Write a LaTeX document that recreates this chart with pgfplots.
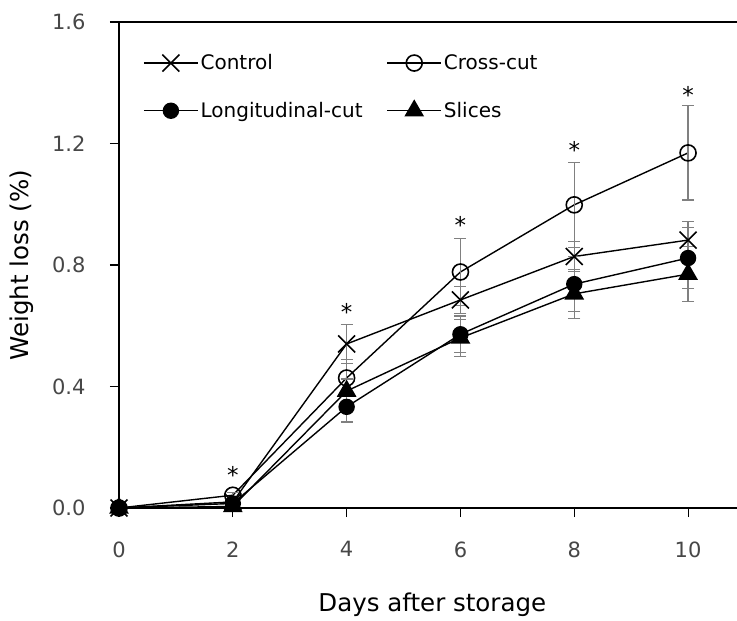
\documentclass[border=0pt]{standalone}
\usepackage{fontspec}
\setmainfont{DejaVu Sans}
\usepackage{pgfplots}
\pgfplotsset{compat=1.18}
\usepackage{pgfplotstable}
\definecolor{errgray}{RGB}{128,128,128}

\pgfplotstableread{
x y e
0 0 0
2 0.020 0.005
4 0.540 0.063
6 0.685 0.045
8 0.828 0.050
10 0.882 0.060
}\control
\pgfplotstableread{
x y e
0 0 0
2 0.042 0.010
4 0.428 0.060
6 0.777 0.110
8 0.998 0.140
10 1.169 0.155
}\crosscut
\pgfplotstableread{
x y e
0 0 0
2 0.015 0.005
4 0.333 0.050
6 0.572 0.060
8 0.737 0.090
10 0.823 0.100
}\longcut
\pgfplotstableread{
x y e
0 0 0
2 0.005 0.005
4 0.385 0.040
6 0.560 0.060
8 0.705 0.080
10 0.770 0.090
}\slices

\begin{document}
\begin{tikzpicture}
\begin{axis}[
  name=ax,
  scale only axis, width=618pt, height=486pt,
  xmin=0, xmax=10.86, ymin=0, ymax=1.6,
  axis x line*=bottom, axis y line*=left,
  clip=false,
  xtick={0,2,4,6,8,10}, ytick={0,0.4,0.8,1.2,1.6},
  yticklabel style={xshift=-21pt, /pgf/number format/fixed, /pgf/number format/fixed zerofill, /pgf/number format/precision=1},
  /pgf/number format/assume math mode=true,
  tick align=outside, major tick length=9pt,
  tick style={black, line width=1.1pt},
  axis line style={black, line width=1.2pt},
  ticklabel style={font=\fontsize{21}{24}\selectfont, text=black!72},
  xticklabel style={yshift=-21pt},
  xlabel={Days after storage},
  ylabel={Weight loss (\%)},
  label style={font=\fontsize{24.5}{28}\selectfont},
  xlabel style={at={(axis description cs:0.507,-0.1996)}, anchor=center},
  ylabel style={at={(axis description cs:-0.157,0.5)}, anchor=center},
  every axis plot/.append style={black, line width=1.4pt},
  error bars/y dir=both, error bars/y explicit,
  error bars/error bar style={errgray, line width=1.2pt},
  error bars/error mark options={rotate=90, mark size=6pt, errgray, line width=1.2pt},
  legend columns=2,
  legend cell align=left,
  legend style={draw=none, fill=none, inner sep=0pt, at={(rel axis cs:0,1)}, anchor=north west,
    xshift=24pt, yshift=-30.5pt, font=\fontsize{20}{24}\selectfont, row sep=27pt,
    /tikz/every odd column/.append style={column sep=0pt},
    /tikz/every even column/.append style={column sep=22pt}},
  legend image code/.code={\draw[mark repeat=2, mark phase=2, #1] plot coordinates {(0pt,0pt) (27pt,0pt) (54pt,0pt)};},
]
\addplot[mark=x, mark size=12pt, mark options={solid, line width=1.6pt}] table[x=x, y=y, y error=e] {\control};
\addlegendentry{Control}
\addplot[mark=o, mark size=8pt, mark options={solid, line width=1.6pt, fill=white}] table[x=x, y=y, y error=e] {\crosscut};
\addlegendentry{Cross-cut}
\addplot[mark=*, mark size=7.5pt, mark options={solid, fill=black}] table[x=x, y=y, y error=e] {\longcut};
\addlegendentry{Longitudinal-cut}
\addplot[mark=triangle*, mark size=10pt, mark options={solid, fill=black}] table[x=x, y=y, y error=e] {\slices};
\addlegendentry{Slices}
\draw[black, line width=1.2pt] (rel axis cs:0,1) -- (rel axis cs:1,1);
\node[font=\fontsize{23}{23}\selectfont, yshift=-2pt] at (axis cs:2,0.115) {*};
\node[font=\fontsize{23}{23}\selectfont, yshift=-2pt] at (axis cs:4,0.652) {*};
\node[font=\fontsize{23}{23}\selectfont, yshift=-2pt] at (axis cs:6,0.938) {*};
\node[font=\fontsize{23}{23}\selectfont, yshift=-2pt] at (axis cs:8,1.185) {*};
\node[font=\fontsize{23}{23}\selectfont, yshift=-2pt] at (axis cs:10,1.366) {*};
\end{axis}
\pgfresetboundingbox
\path[use as bounding box] (ax.south west) ++(-119pt,-113pt) rectangle ++(737pt,621pt);
\end{tikzpicture}
\end{document}
